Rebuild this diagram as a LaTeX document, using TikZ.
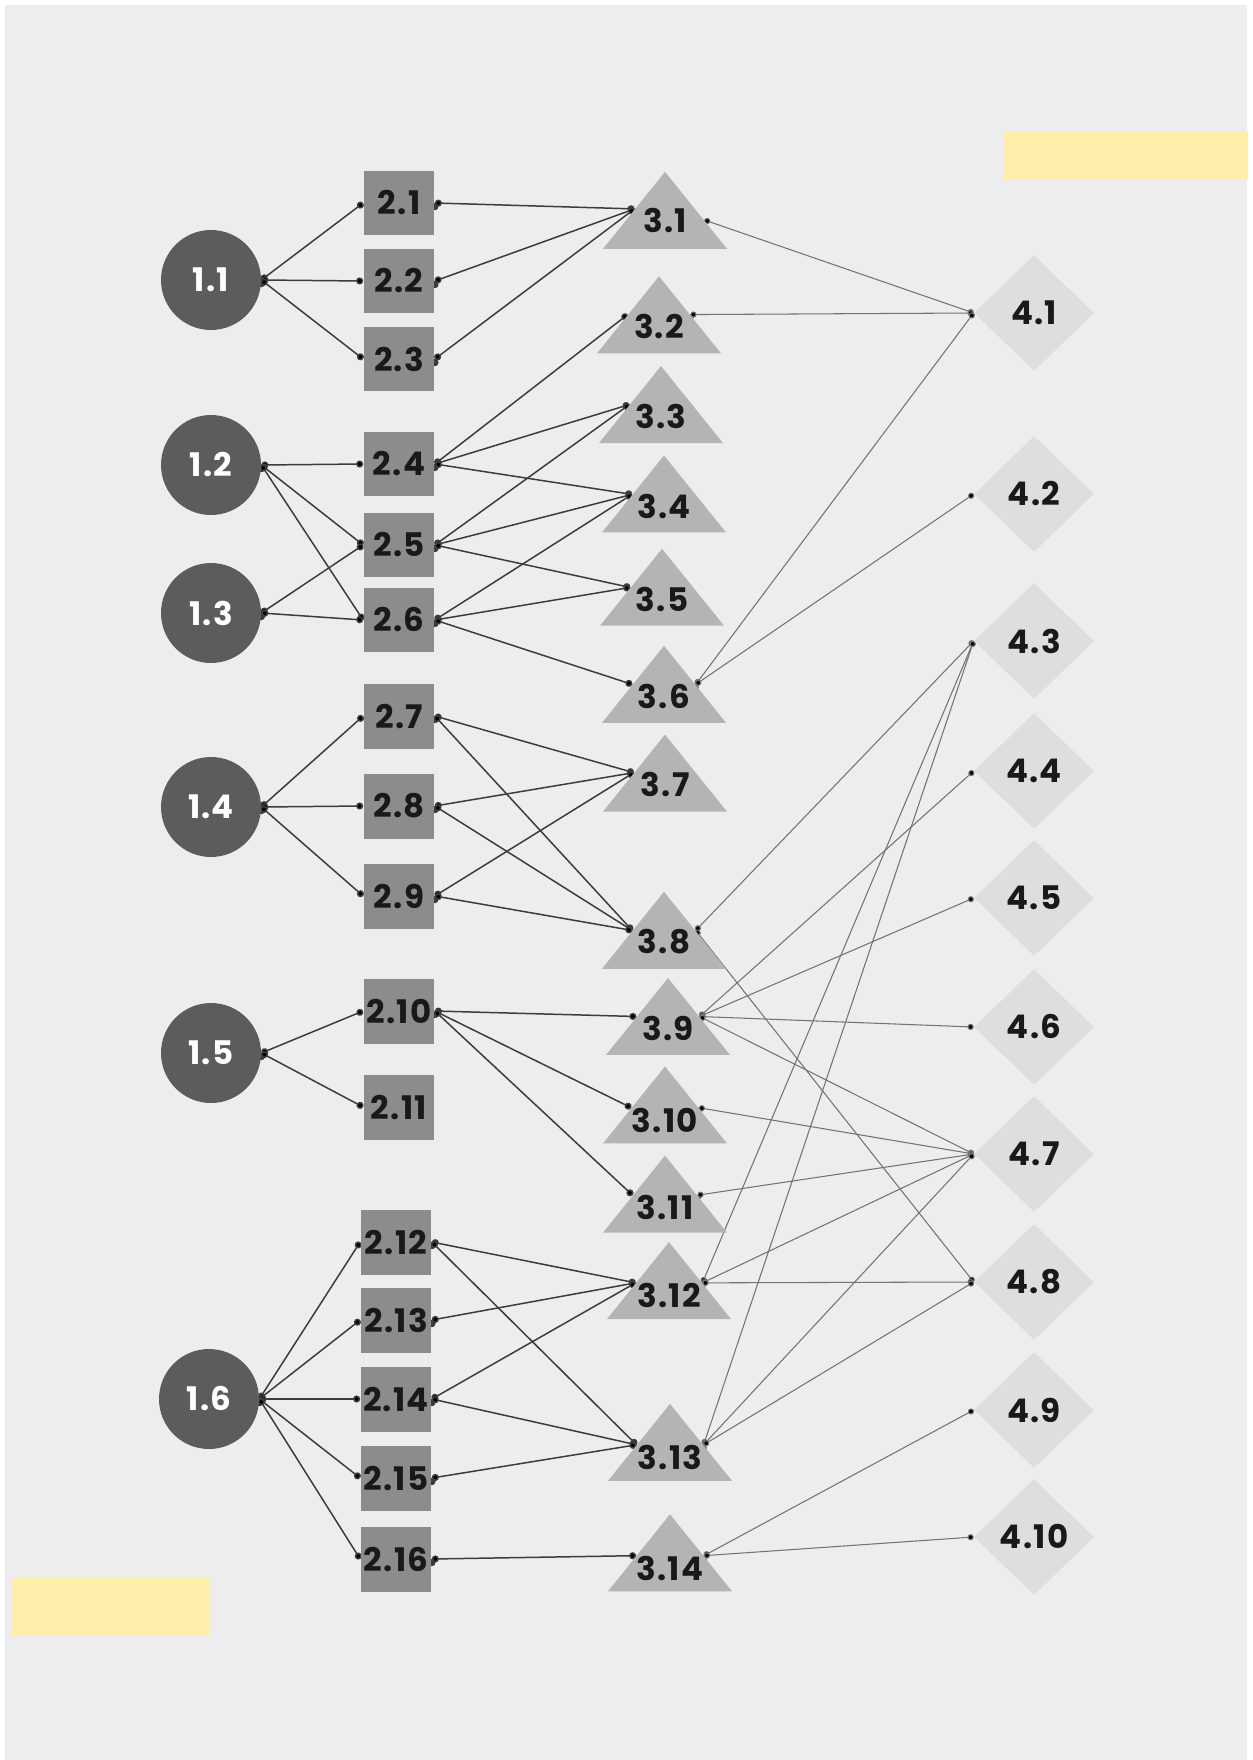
\documentclass[tikz,border=0pt]{standalone}
\usepackage{fontspec}
\setmainfont{Poppins}[LetterSpace=4]
\usepackage{tikz}
\usetikzlibrary{positioning,shapes.geometric,arrows.meta}
\definecolor{paper}{RGB}{237,237,237}
\definecolor{circgray}{RGB}{92,92,92}
\definecolor{boxgray}{RGB}{140,140,140}
\definecolor{trigray}{RGB}{180,180,180}
\definecolor{diagray}{RGB}{222,222,222}
\definecolor{wiredark}{RGB}{60,60,60}
\definecolor{wiregray}{RGB}{115,115,115}
\definecolor{softyellow}{RGB}{255,237,170}
\pgfdeclarelayer{paperlayer}
\pgfdeclarelayer{wirelayer}
\pgfsetlayers{paperlayer,wirelayer,main}

\begin{document}
\begin{tikzpicture}[x=0.02cm,y=-0.02cm,font=\fontsize{18.5}{20}\selectfont\bfseries,
    lvlone/.style={circle,fill=circgray,text=white,minimum size=2cm,inner sep=0pt},
    lvltwo/.style={rectangle,fill=boxgray,text=black!90,minimum width=1.42cm,minimum height=1.3cm,inner sep=0pt},
    lvlthree/.style={isosceles triangle,isosceles triangle stretches,shape border rotate=90,
      fill=trigray,text=black!90,minimum width=2.48cm,minimum height=1.54cm,inner xsep=-10pt,inner ysep=-4pt},
    lvlfour/.style={diamond,fill=diagray,text=black!90,minimum width=2.4cm,minimum height=2.32cm,inner sep=0pt},
    wire/.style={draw=wiredark,line width=0.85pt,{Circle[length=4pt]}-{Circle[length=4pt]}},
    thinwire/.style={draw=wiregray,line width=0.6pt,{Circle[length=3.5pt]}-{Circle[length=3.5pt]}}]
  \useasboundingbox (0,0) rectangle (1252,1760);
  \begin{pgfonlayer}{paperlayer}
    \fill[white] (0,0) rectangle (1252,1760);
    \fill[paper] (5,5) rectangle (1247,1760);
  \end{pgfonlayer}
  \fill[softyellow] (1003,131) rectangle (1248,180);
  \fill[softyellow] (11,1578) rectangle (209,1636);

  % first level
  \node[lvlone] (c1) at (211,280) {1.1};
  \node[lvlone] (c2) at (211,465) {1.2};
  \node[lvlone] (c3) at (211,613) {1.3};
  \node[lvlone] (c4) at (211,807) {1.4};
  \node[lvlone] (c5) at (211,1053) {1.5};
  \node[lvlone] (c6) at (209,1399) {1.6};

  % second level
  \node[lvltwo] (s1) at (399,203) {2.1};
  \node[lvltwo] (s2) at (399,281) {2.2};
  \node[lvltwo] (s3) at (399,359) {2.3};
  \node[lvltwo] (s4) at (399,464) {2.4};
  \node[lvltwo] (s5) at (399,545) {2.5};
  \node[lvltwo] (s6) at (399,620) {2.6};
  \node[lvltwo] (s7) at (399,716) {2.7};
  \node[lvltwo] (s8) at (399,806) {2.8};
  \node[lvltwo] (s9) at (399,896) {2.9};
  \node[lvltwo] (s10) at (399,1011) {2.10};
  \node[lvltwo] (s11) at (399,1107) {2.11};
  \node[lvltwo] (s12) at (396,1242) {2.12};
  \node[lvltwo] (s13) at (396,1320) {2.13};
  \node[lvltwo] (s14) at (396,1399) {2.14};
  \node[lvltwo] (s15) at (396,1478) {2.15};
  \node[lvltwo] (s16) at (396,1559) {2.16};

  % third level
  \node[lvlthree] (t1) at (665,220) {3.1};
  \node[lvlthree] (t2) at (659,326) {3.2};
  \node[lvlthree] (t3) at (661,416) {3.3};
  \node[lvlthree] (t4) at (664,506) {3.4};
  \node[lvlthree] (t5) at (662,599) {3.5};
  \node[lvlthree] (t6) at (664,696) {3.6};
  \node[lvlthree] (t7) at (665,784) {3.7};
  \node[lvlthree] (t8) at (664,942) {3.8};
  \node[lvlthree] (t9) at (668,1028) {3.9};
  \node[lvlthree] (t10) at (665,1120) {3.10};
  \node[lvlthree] (t11) at (665,1207) {3.11};
  \node[lvlthree] (t12) at (669,1295) {3.12};
  \node[lvlthree] (t13) at (670,1457) {3.13};
  \node[lvlthree] (t14) at (670,1568) {3.14};

  % fourth level
  \node[lvlfour] (d1) at (1034,313) {4.1};
  \node[lvlfour] (d2) at (1034,494) {4.2};
  \node[lvlfour] (d3) at (1034,641) {4.3};
  \node[lvlfour] (d4) at (1034,771) {4.4};
  \node[lvlfour] (d5) at (1034,898) {4.5};
  \node[lvlfour] (d6) at (1034,1027) {4.6};
  \node[lvlfour] (d7) at (1034,1154) {4.7};
  \node[lvlfour] (d8) at (1034,1282) {4.8};
  \node[lvlfour] (d9) at (1034,1410) {4.9};
  \node[lvlfour] (d10) at (1034,1537) {4.10};

  \begin{pgfonlayer}{wirelayer}
    % level 1 to 2
    \draw[wire] (c1.east) edge (s1.west) edge (s2.west) edge (s3.west);
    \draw[wire] (c2.east) edge (s4.west) edge (s5.west) edge (s6.west);
    \draw[wire] (c3.east) edge (s5.west) edge (s6.west);
    \draw[wire] (c4.east) edge (s7.west) edge (s8.west) edge (s9.west);
    \draw[wire] (c5.east) edge (s10.west) edge (s11.west);
    \draw[wire] (c6.east) edge (s12.west) edge (s13.west) edge (s14.west) edge (s15.west) edge (s16.west);
    % level 2 to 3
    \draw[wire] (s1.east) edge (t1.160);
    \draw[wire] (s2.east) edge (t1.160);
    \draw[wire] (s3.east) edge (t1.160);
    \draw[wire] (s4.east) edge (t2.160) edge (t3.160) edge (t4.160);
    \draw[wire] (s5.east) edge (t3.160) edge (t4.160) edge (t5.160);
    \draw[wire] (s6.east) edge (t4.160) edge (t5.160) edge (t6.160);
    \draw[wire] (s7.east) edge (t7.160) edge (t8.160);
    \draw[wire] (s8.east) edge (t7.160) edge (t8.160);
    \draw[wire] (s9.east) edge (t7.160) edge (t8.160);
    \draw[wire] (s10.east) edge (t9.160) edge (t10.160) edge (t11.160);
    \draw[wire] (s12.east) edge (t12.160) edge (t13.160);
    \draw[wire] (s13.east) edge (t12.160);
    \draw[wire] (s14.east) edge (t12.160) edge (t13.160);
    \draw[wire] (s15.east) edge (t13.160);
    \draw[wire] (s16.east) edge (t14.160);
    % level 3 to 4
    \draw[thinwire] (t1.east) edge (d1.west);
    \draw[thinwire] (t2.20) edge (d1.west);
    \draw[thinwire] (t6.20) edge (d1.west) edge (d2.west);
    \draw[thinwire] (t8.20) edge (d3.west) edge (d8.west);
    \draw[thinwire] (t9.20) edge (d4.west) edge (d5.west) edge (d6.west) edge (d7.west);
    \draw[thinwire] (t10.20) edge (d7.west);
    \draw[thinwire] (t11.20) edge (d7.west);
    \draw[thinwire] (t12.20) edge (d3.west) edge (d7.west) edge (d8.west);
    \draw[thinwire] (t13.20) edge (d3.west) edge (d7.west) edge (d8.west);
    \draw[thinwire] (t14.20) edge (d9.west) edge (d10.west);
  \end{pgfonlayer}
\end{tikzpicture}
\end{document}
